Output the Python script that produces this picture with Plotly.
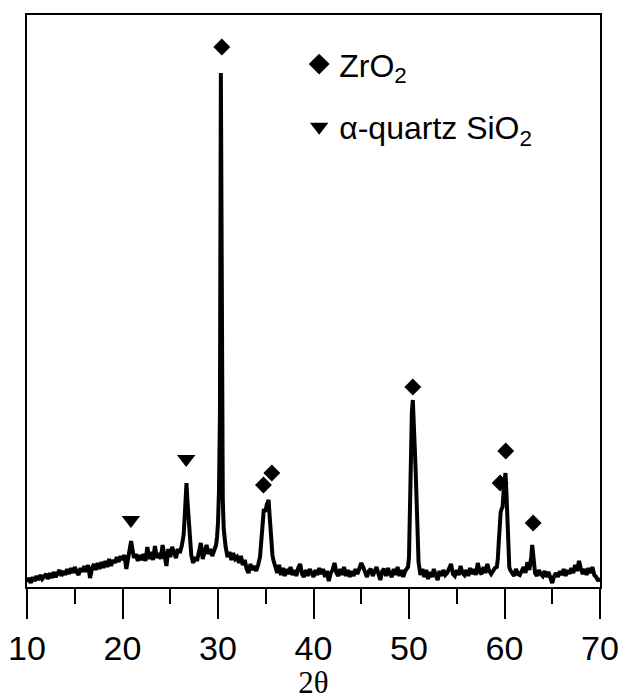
import plotly.graph_objects as go

# ---- data ----
scan_start = 10.0
scan_step = 0.2
intensity = [
    5, 9, 4, 10, 6, 11, 7, 12, 8, 11,          # 10.0-11.8
    13, 8, 14, 9, 15, 10, 14, 17, 11, 16,      # 12.0-13.8
    12, 18, 13, 19, 14, 20, 15, 12, 19, 15,    # 14.0-15.8
    21, 15, 22, 9, 18, 23, 17, 24, 18, 25,     # 16.0-17.8
    19, 26, 20, 28, 21, 27, 24, 30, 25, 31,    # 18.0-19.8
    27, 32, 18, 30, 38, 40, 29, 33, 26, 32,    # 20.0-21.8
    27, 33, 26, 40, 28, 35, 27, 41, 29, 34,    # 22.0-23.8
    28, 42, 30, 21, 38, 30, 40, 33, 29, 38,    # 24.0-25.8
    34, 41, 52, 92, 86, 50, 32, 24, 30, 26,    # 26.0-27.8
    34, 44, 28, 34, 42, 33, 38, 31, 36, 42,    # 28.0-29.8
    64, 170, 160, 58, 40, 30, 35, 27, 34, 28,  # 30.0-31.8
    30, 24, 31, 22, 27, 18, 14, 23, 17, 21,    # 32.0-33.8
    16, 22, 30, 58, 78, 77, 86, 72, 40, 27,    # 34.0-35.8
    21, 14, 22, 12, 19, 11, 18, 13, 20, 12,    # 36.0-37.8
    17, 11, 19, 23, 13, 10, 17, 11, 18, 13,    # 38.0-39.8
    10, 17, 12, 19, 13, 18, 10, 16, 6, 14,     # 40.0-41.8
    17, 24, 14, 11, 18, 12, 20, 11, 17, 10,    # 42.0-43.8
    16, 11, 18, 13, 19, 24, 20, 14, 10, 16,    # 44.0-45.8
    18, 11, 17, 20, 13, 7, 16, 18, 11, 19,     # 46.0-47.8
    13, 10, 18, 12, 20, 11, 17, 10, 16, 18,    # 48.0-49.8
    30, 130, 187, 140, 80, 25, 12, 18, 10, 17, # 50.0-51.8
    8, 15, 10, 18, 12, 7, 16, 11, 17, 12,      # 52.0-53.8
    14, 18, 23, 13, 11, 17, 12, 21, 14, 12,    # 54.0-55.8
    17, 11, 19, 13, 18, 12, 24, 15, 13, 20,    # 56.0-57.8
    14, 23, 16, 13, 17, 19, 20, 45, 75, 80,    # 58.0-59.8
    108, 95, 30, 17, 14, 11, 18, 13, 12, 17,   # 60.0-61.8
    20, 14, 25, 17, 30, 28, 14, 11, 17, 13,    # 62.0-63.8
    11, 16, 10, 15, 8, 4, 11, 14, 10, 16,      # 64.0-65.8
    12, 18, 11, 17, 13, 19, 14, 22, 16, 26,    # 66.0-67.8
    18, 13, 18, 12, 19, 14, 20, 12, 10, 6,     # 68.0-69.8
    9,                                         # 70.0
]

# extra points read at the peaks (between grid points)
peak_two_theta = [20.7, 20.9, 21.1,
                  26.3, 26.5, 26.7, 26.9, 27.1,
                  29.9, 30.1, 30.3, 30.5, 30.7,
                  34.5, 34.7, 34.9, 35.1, 35.3, 35.5, 35.7,
                  49.9, 50.1, 50.3, 50.5, 50.7, 50.9,
                  59.3, 59.5, 59.7, 59.9, 60.1, 60.3, 60.5,
                  62.7, 62.9, 63.1]
peak_intensity = [33, 46, 34,
                  45, 68, 104, 68, 38,
                  50, 95, 514, 88, 46,
                  42, 75, 76, 82, 87, 55, 32,
                  20, 95, 175, 170, 115, 45,
                  28, 62, 78, 95, 114, 60, 20,
                  22, 42, 20]

zro2_two_theta = [30.4, 34.76, 35.64, 50.4, 59.54, 60.13, 63.0]
zro2_marker_y = [540, 102, 114, 200, 104, 136, 64]
sio2_two_theta = [20.88, 26.67]
sio2_marker_y = [67, 128]

x_ticks = [10, 20, 30, 40, 50, 60, 70]

# ---- build scan ----
grid_theta = [round(scan_start + scan_step * i, 2) for i in range(len(intensity))]
pts = sorted(list(zip(grid_theta, intensity)) + list(zip(peak_two_theta, peak_intensity)))
scan_x = [p[0] for p in pts]
scan_y = [p[1] for p in pts]

fig = go.Figure()
fig.add_trace(go.Scatter(x=scan_x, y=scan_y, mode="lines",
                         line=dict(color="black", width=4), showlegend=False,
                         hoverinfo="skip"))
fig.add_trace(go.Scatter(x=zro2_two_theta, y=zro2_marker_y, mode="markers",
                         marker=dict(symbol="diamond", size=13, color="black"),
                         showlegend=False))
fig.add_trace(go.Scatter(x=sio2_two_theta, y=sio2_marker_y, mode="markers",
                         marker=dict(symbol="triangle-down", size=16, color="black"),
                         showlegend=False))
# legend entries
fig.add_trace(go.Scatter(x=[None], y=[None], mode="markers", name="ZrO<sub>2</sub>",
                         marker=dict(symbol="diamond", size=16, color="black"),
                         legendgroup="a"))
fig.add_trace(go.Scatter(x=[None], y=[None], mode="markers", name="α-quartz SiO<sub>2</sub>",
                         marker=dict(symbol="triangle-down", size=16, color="black"),
                         legendgroup="b"))

fig.update_layout(
    width=621, height=700,
    margin=dict(l=27, r=21, t=15, b=113),
    paper_bgcolor="white", plot_bgcolor="white",
    font=dict(family="Liberation Sans, Arial, sans-serif", color="black"),
    legend=dict(x=0.475, y=0.962, xanchor="left", yanchor="top",
                font=dict(size=32, family="Liberation Sans, Arial, sans-serif"),
                bgcolor="rgba(0,0,0,0)", tracegroupgap=18, itemclick=False),
    xaxis=dict(range=[10, 70], tickmode="array", tickvals=x_ticks,
               ticks="outside", ticklen=30, tickwidth=2, tickcolor="black",
               minor=dict(dtick=5, ticks="outside", ticklen=15, tickwidth=2, tickcolor="black"),
               showline=True, linewidth=2, linecolor="black", mirror=True,
               showgrid=False, zeroline=False, automargin=False,
               tickfont=dict(size=34, family="Liberation Sans, Arial, sans-serif"),
               title=dict(text="2θ", font=dict(size=31, family="Liberation Serif, Times New Roman, serif"),
                          standoff=6)),
    yaxis=dict(range=[0, 572], showticklabels=False, ticks="",
               showline=True, linewidth=2, linecolor="black", mirror=True,
               showgrid=False, zeroline=False, automargin=False),
)

fig.write_html("out.html")
